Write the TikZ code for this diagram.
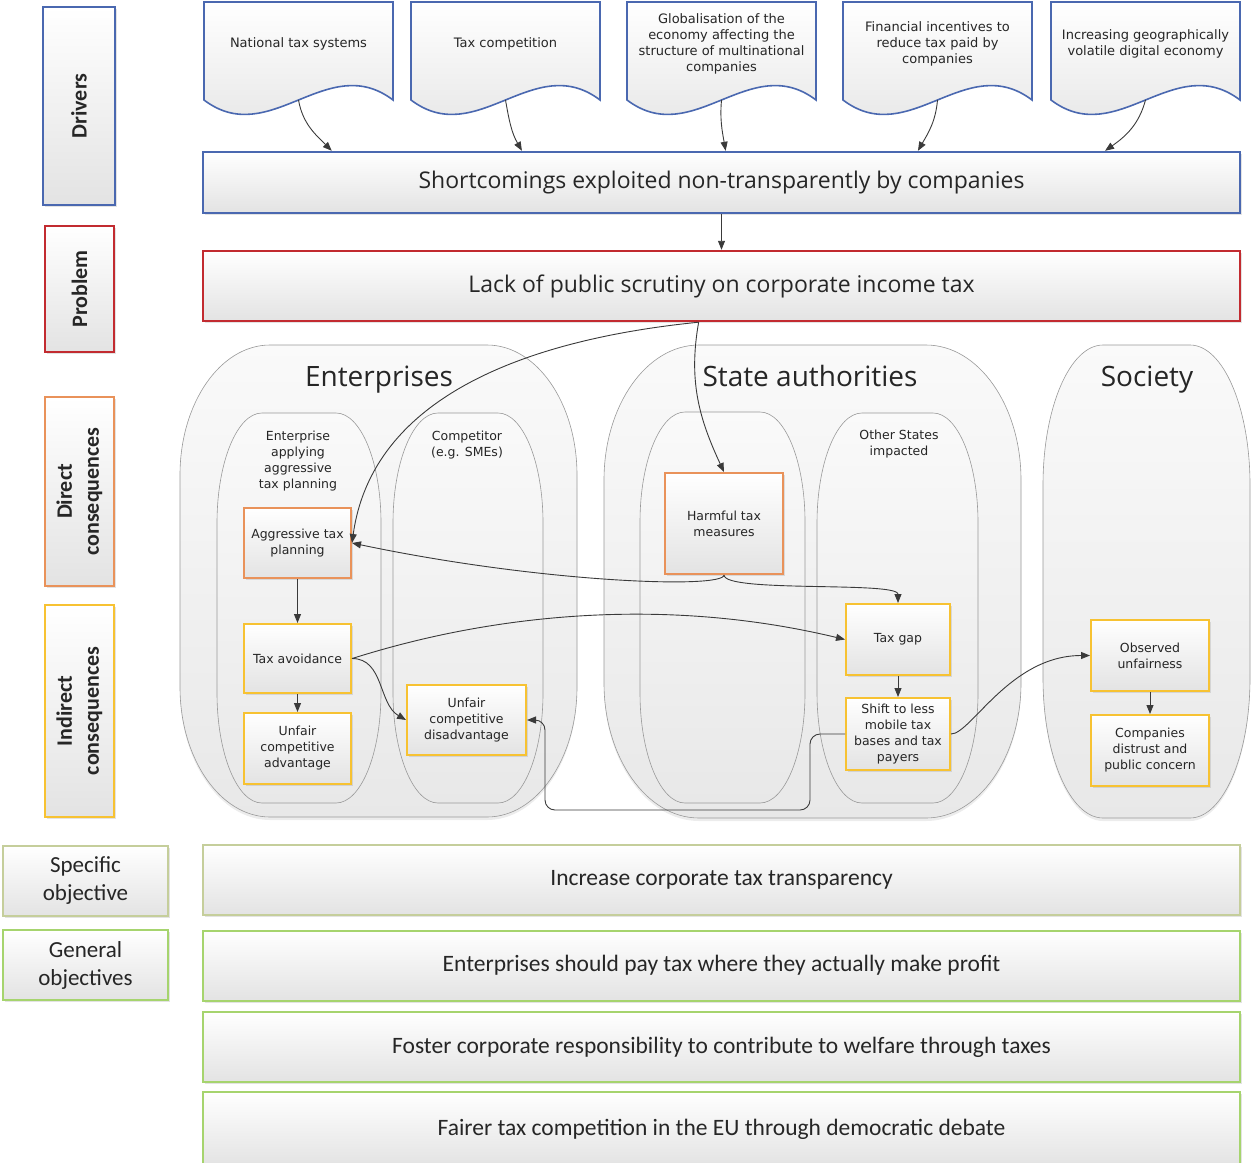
\documentclass[tikz,border=0pt]{standalone}
\usepackage{fontspec}
\setmainfont{Carlito}
\newfontfamily\smallfont{DejaVu Sans}
\newfontfamily\headfont{Open Sans}
\newfontfamily\objfont{Carlito}
\usetikzlibrary{arrows.meta,shadows,calc}

\definecolor{drvblue}{HTML}{4A68B0}
\definecolor{probred}{HTML}{C22B30}
\definecolor{dirorange}{HTML}{E9925A}
\definecolor{indyellow}{HTML}{F7C232}
\definecolor{specgreen}{HTML}{C5CE9B}
\definecolor{gengreen}{HTML}{A6D46E}
\definecolor{arrgray}{HTML}{3A3A3A}

\def\capsule[#1](#2,#3)(#4,#5)(#6,#7){\path[#1] ({#2},{-(#3)-(#7)}) arc[start angle=180,end angle=90,x radius=#6,y radius=#7] -- ({#4-#6},{-(#3)}) arc[start angle=90,end angle=0,x radius=#6,y radius=#7] -- ({#4},{-(#5)+#7}) arc[start angle=0,end angle=-90,x radius=#6,y radius=#7] -- ({#2+#6},{-(#5)}) arc[start angle=270,end angle=180,x radius=#6,y radius=#7] -- cycle;}

\tikzset{
  shade box/.style={top color=white, bottom color=black!11},
  soft shadow/.style={drop shadow={shadow xshift=1.5pt, shadow yshift=-2pt, opacity=0.22}},
  drvdoc/.style={draw=drvblue, line width=1.6pt, shade box},
  drvtext/.style={font=\smallfont\fontsize{13}{16}\selectfont, align=center, text=black!85},
  lblbox/.style={draw=#1, line width=2pt, shade box, soft shadow, align=center, inner sep=0pt, font=\bfseries\fontsize{22}{27}\selectfont, text=black!85},
  objlbl/.style={draw=#1, line width=2pt, shade box, soft shadow, align=center, inner sep=0pt, minimum width=165pt, minimum height=70pt, font=\fontsize{23}{28}\selectfont, text=black!85},
  bigbox/.style={draw=#1, line width=2.4pt, shade box, soft shadow, minimum width=1037pt, inner sep=0pt, font=\headfont\fontsize{23}{28}\selectfont, text=black!85},
  objbox/.style={bigbox=#1, line width=2pt, minimum height=70pt, font=\objfont\fontsize{23.5}{28}\selectfont},
  grp/.style={draw=black!40, line width=0.6pt, top color=black!2, bottom color=black!9},
  grpshadow/.style={grp, drop shadow={shadow xshift=0pt, shadow yshift=-3pt, opacity=0.15}},
  grptitle/.style={font=\headfont\fontsize{28}{32}\selectfont, text=black!85, anchor=base},
  grplbl/.style={font=\smallfont\fontsize{12.5}{16}\selectfont, align=center, text=black!85},
  cbox/.style={draw=#1, line width=2pt, shade box, soft shadow, align=center, inner sep=1pt, font=\smallfont\fontsize{12.5}{16}\selectfont, text=black!85},
  arr/.style={draw=arrgray, line width=0.9pt, -{Triangle[length=9pt,width=7pt]}},
}

\begin{document}
\begin{tikzpicture}[x=1pt,y=1pt]
  \useasboundingbox (0,0) rectangle (1255,-1162);

  %%%%% LEFT COLUMN %%%%%
  \node[lblbox=drvblue, rotate=90, minimum width=198pt, minimum height=72pt] (lDrv) at (79,-106) {Drivers};
  \node[lblbox=probred, rotate=90, minimum width=126pt, minimum height=69pt] (lProb) at (79.5,-289) {Problem};
  \node[lblbox=dirorange, rotate=90, minimum width=189pt, minimum height=69pt] (lDir) at (79.5,-491.5) {Direct\\consequences};
  \node[lblbox=indyellow, rotate=90, minimum width=212pt, minimum height=69pt] (lInd) at (79.5,-711) {Indirect\\consequences};
  \node[objlbl=specgreen] (lSpec) at (85.5,-881) {Specific\\objective};
  \node[objlbl=gengreen] (lGen) at (85.5,-965) {General\\objectives};

  %%%%% DRIVERS %%%%%
  \foreach \lx/\txt [count=\i] in {204/{National tax systems}, 411/{Tax competition}, 627/{Globalisation of the\\economy affecting the\\structure of multinational\\companies}, 843/{Financial incentives to\\reduce tax paid by\\companies}, 1051/{Increasing geographically\\volatile digital economy}}{
    \pgfmathsetmacro\rx{\lx+189}
    \path[drvdoc] (\lx,-2) -- (\rx,-2) -- (\rx,-100) .. controls ({\lx+123},-50) and ({\lx+66},-150) .. (\lx,-100) -- cycle;
    \node[drvtext] (drv\i) at ({\lx+94.5},-44) {\txt};
    \coordinate (drv\i w) at ({\lx+94.5},-100);
  }

  \node[bigbox=drvblue, minimum height=61pt] (short) at (721.5,-182.5) {Shortcomings exploited non-transparently by companies};
  \node[bigbox=probred, minimum height=70pt] (prob) at (721.5,-286) {Lack of public scrutiny on corporate income tax};

  \foreach \i/\f/\o/\n in {1/0.125/-80/135, 2/0.308/-80/120, 3/0.504/-95/100, 4/0.689/-95/60, 5/0.869/-105/35}
    \draw[arr] (drv\i w) to[out=\o,in=\n] ($(short.north west)!\f!(short.north east)$);
  \draw[arr] (short) -- (prob);

  %%%%% GROUPS %%%%%
  \capsule[grpshadow](180,345)(577,817)(90,130)
  \capsule[grp](217,413)(381,803)(45,110)
  \capsule[grp](393,413)(543,803)(45,110)
  \capsule[grpshadow](604,345)(1021,818)(95,135)
  \capsule[grp](640,412)(805,803)(45,110)
  \capsule[grp](817,413)(978,803)(45,110)
  \capsule[grpshadow](1043,345)(1250,818)(60,140)

  \node[grptitle] (tEnt) at (379,-386) {Enterprises};
  \node[grptitle] (tState) at (810,-386) {State authorities};
  \node[grptitle] (tSoc) at (1147,-386) {Society};
  \node[grplbl] (gApp) at (298,-461) {Enterprise\\applying\\aggressive\\tax planning};
  \node[grplbl] (gComp) at (467,-445) {Competitor\\(e.g. SMEs)};
  \node[grplbl] (gOther) at (899,-444) {Other States\\impacted};

  %%%%% CONSEQUENCES %%%%%
  \node[cbox=dirorange, minimum width=107pt, minimum height=70pt] (aggr) at (297.5,-543) {Aggressive tax\\planning};
  \node[cbox=dirorange, minimum width=118pt, minimum height=101pt] (harm) at (724,-523.5) {Harmful tax\\measures};
  \node[cbox=indyellow, minimum width=107pt, minimum height=69pt] (tavoid) at (297.5,-658.5) {Tax avoidance};
  \node[cbox=indyellow, minimum width=107pt, minimum height=71pt] (uadv) at (297.5,-748.5) {Unfair\\competitive\\advantage};
  \node[cbox=indyellow, minimum width=119pt, minimum height=70pt] (udis) at (466.5,-720) {Unfair\\competitive\\disadvantage};
  \node[cbox=indyellow, minimum width=104pt, minimum height=71pt] (tgap) at (898,-639.5) {Tax gap};
  \node[cbox=indyellow, minimum width=104pt, minimum height=72pt] (shift) at (898,-734) {Shift to less\\mobile tax\\bases and tax\\payers};
  \node[cbox=indyellow, minimum width=118pt, minimum height=71pt] (obs) at (1150,-655.5) {Observed\\unfairness};
  \node[cbox=indyellow, minimum width=118pt, minimum height=71pt] (dist) at (1150,-750.5) {Companies\\distrust and\\public concern};

  \coordinate (probOut) at ($(prob.south west)!0.478!(prob.south east)$);
  \draw[arr] (probOut) .. controls +(-179,-18) and +(20,143) .. (aggr.east);
  \draw[arr] (probOut) to[out=-100,in=115] (harm.north);
  \draw[arr] (harm.south) .. controls +(0,-14) and +(190,-40) .. (aggr.east);
  \draw[arr] (harm.south) .. controls +(0,-18) and +(0,22) .. (tgap.north);
  \draw[arr] (aggr) -- (tavoid);
  \draw[arr] (tavoid) -- (uadv);
  \draw[arr] (tavoid.east) .. controls +(40,12) and +(-250,60) .. (tgap.west);
  \draw[arr] (tavoid.east) to[out=0,in=150] (udis.west);
  \draw[arr] (tgap) -- (shift);
  \draw[arr] (shift.east) .. controls +(20,0) and +(-80,0) .. (obs.west);
  \draw[arr, rounded corners=10pt] (shift.west) -- ++(-35,0) -- ++(0,-76) -- ++(-265,0) |- (udis.east);
  \draw[arr] (obs) -- (dist);

  %%%%% OBJECTIVES %%%%%
  \node[objbox=specgreen] (oSpec) at (721.5,-880) {Increase corporate tax transparency};
  \node[objbox=gengreen] (oGen1) at (721.5,-965.5) {Enterprises should pay tax where they actually make profit};
  \node[objbox=gengreen] (oGen2) at (721.5,-1047) {Foster corporate responsibility to contribute to welfare through taxes};
  \node[objbox=gengreen, minimum height=74pt] (oGen3) at (721.5,-1129) {Fairer tax competition in the EU through democratic debate};
\end{tikzpicture}
\end{document}
